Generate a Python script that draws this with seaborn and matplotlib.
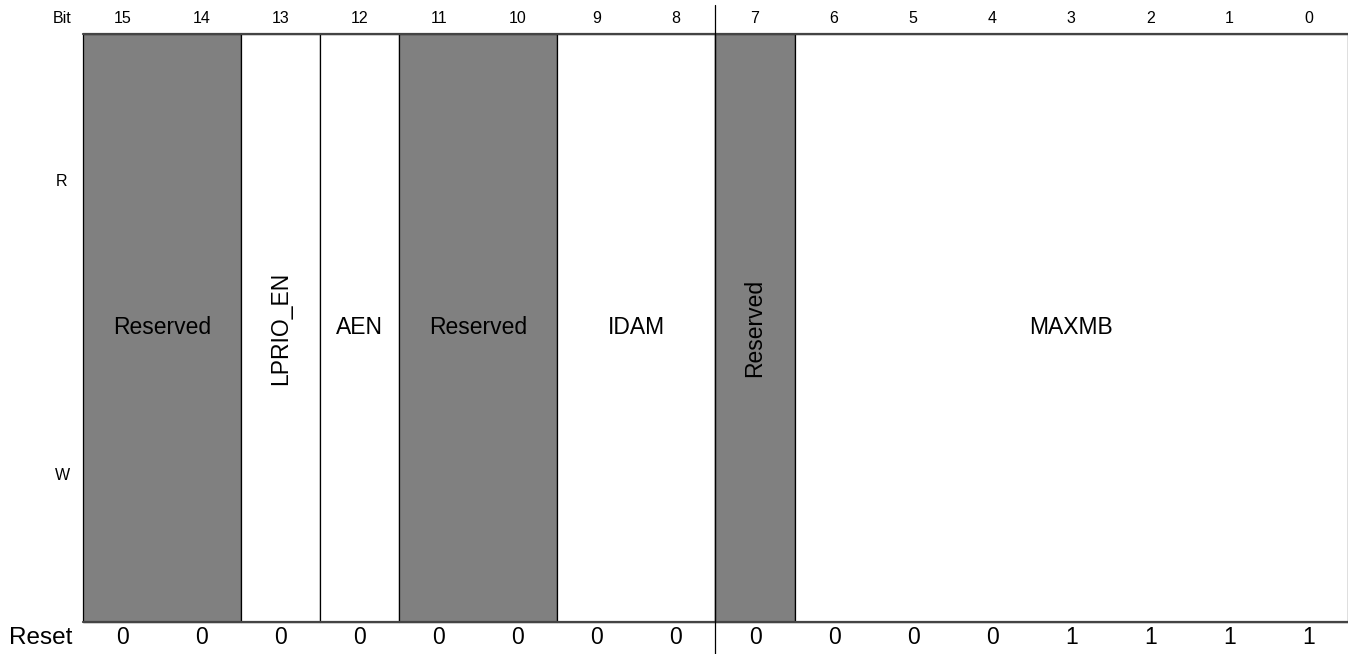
import matplotlib
matplotlib.use("Agg")
import matplotlib.pyplot as plt
import seaborn as sns

# Campos do registrador (bit mais alto -> mais baixo)
field_names = ["Reserved", "LPRIO_EN", "AEN", "Reserved", "IDAM", "Reserved", "MAXMB"]
field_msb = [15, 13, 12, 11, 9, 7, 6]
field_lsb = [14, 13, 12, 10, 8, 7, 0]
field_reserved = [True, False, False, True, False, True, False]

bits = list(range(15, -1, -1))
reset_values = [0, 0, 0, 0, 0, 0, 0, 0, 0, 0, 0, 0, 1, 1, 1, 1]
row_labels = ["R", "W"]

# Layout em pixels da figura original
W_PX, H_PX = 1348, 654
LEFT_PX, TOP_PX, BOTTOM_PX = 83, 34, 622
bit_px = (W_PX - LEFT_PX) / 16
row_px = BOTTOM_PX - TOP_PX

sns.set_theme(style="white")
plt.rcParams["font.family"] = ["Liberation Sans", "DejaVu Sans"]
plt.rcParams["text.color"] = "black"

fig = plt.figure(figsize=(W_PX / 100, H_PX / 100), dpi=100)
ax = fig.add_axes([0, 0, 1, 1])
y_bottom = 1 + (H_PX - BOTTOM_PX) / row_px
ax.set_xlim(-LEFT_PX / bit_px, 16)
ax.set_ylim(y_bottom, -TOP_PX / row_px)
ax.axis("off")

# Células dos campos
for name, msb, lsb, res in zip(field_names, field_msb, field_lsb, field_reserved):
    x0 = 15 - msb
    width = msb - lsb + 1
    ax.bar(x0, 1, width=width, bottom=0, align="edge",
           color="#808080" if res else "white", edgecolor="black", linewidth=0.9, zorder=2)
    vertical = width == 1 and len(name) > 3
    ax.text(x0 + width / 2, 0.5, name, ha="center", va="center",
            rotation=90 if vertical else 0, fontsize=16.5, color="black", zorder=3)

# Linhas horizontais superior e inferior
ax.plot([0, 16], [0, 0], color="#444444", linewidth=1.6, zorder=4)
ax.plot([0, 16], [1, 1], color="#444444", linewidth=1.6, zorder=4)

# Divisor de byte (entre bit 8 e bit 7)
ax.plot([8, 8], [-(TOP_PX - 5) / row_px, y_bottom], color="black", linewidth=0.9, zorder=5)

# Números dos bits e valores de reset
label_x = -(LEFT_PX - 72) / bit_px
ax.text(label_x, -0.027, "Bit", ha="right", va="center", fontsize=11.5, color="black")
ax.text(label_x, 1.027, "Reset", ha="right", va="center", fontsize=17.5, color="black")
for i, (b, r) in enumerate(zip(bits, reset_values)):
    ax.text(i + 0.5, -0.027, str(b), ha="center", va="center", fontsize=11.5, color="black")
    ax.text(i + 0.5, 1.027, str(r), ha="center", va="center", fontsize=16.5, color="black")

# Rótulos de acesso R / W
for j, lab in enumerate(row_labels):
    ax.text(-(LEFT_PX - 62) / bit_px, 0.25 + 0.5 * j, lab, ha="center", va="center",
            fontsize=11.5, color="black")

fig.savefig("out.png", dpi=100)
plt.close(fig)
